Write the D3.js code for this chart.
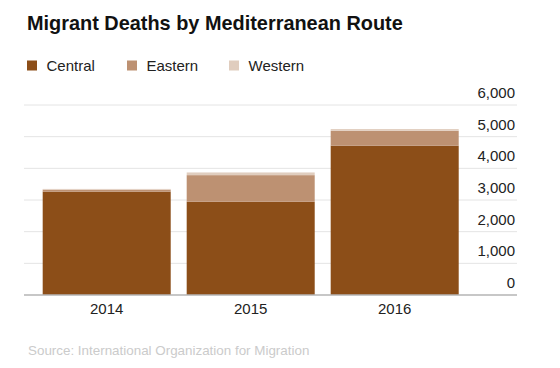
<!DOCTYPE html>
<html><head><meta charset="utf-8">
<script src="https://cdn.jsdelivr.net/npm/d3@7"></script>
<style>
html,body{margin:0;padding:0;background:#fff;}
text{font-family:"Liberation Sans",Arial,Helvetica,sans-serif;}
</style></head>
<body>
<script>
const years = ["2014","2015","2016"];
const central = [3265, 2945, 4715];
const eastern = [60, 840, 470];
const western = [25, 85, 55];
const seriesNames = ["Central","Eastern","Western"];
const colors = ["#8C4E18","#BD9172","#E0CDBE"];
const yTicks = [0,1000,2000,3000,4000,5000,6000];

const W=560,H=368;
const svg=d3.select("body").append("svg").attr("width",W).attr("height",H);

svg.append("text").attr("x",27).attr("y",30).attr("font-size",19.9).attr("font-weight","bold")
  .attr("fill","#111").text("Migrant Deaths by Mediterranean Route");

// legend
const legX=[27,127,229];
seriesNames.forEach((s,i)=>{
  svg.append("rect").attr("x",legX[i]).attr("y",60.5).attr("width",10).attr("height",10).attr("fill",colors[i]);
  svg.append("text").attr("x",legX[i]+19.5).attr("y",71).attr("font-size",15).attr("fill","#222").text(s);
});

const x=d3.scaleBand().domain(years).range([34.7,466.7]).paddingInner(0.111).paddingOuter(0.0555);
const y=d3.scaleLinear().domain([0,6000]).range([295,105]);

// grid
const gx0=24,gx1=517;
svg.append("g").selectAll("line").data(yTicks.filter(d=>d>0)).join("line")
  .attr("x1",gx0).attr("x2",gx1).attr("y1",d=>y(d)).attr("y2",d=>y(d))
  .attr("stroke","#e4e4e4").attr("stroke-width",1);

// stacked bars
const table=years.map((yr,i)=>({year:yr,Central:central[i],Eastern:eastern[i],Western:western[i]}));
const stack=d3.stack().keys(seriesNames)(table);
svg.append("g").selectAll("g").data(stack).join("g").attr("fill",(d,i)=>colors[i])
  .selectAll("rect").data(d=>d).join("rect")
  .attr("x",d=>x(d.data.year)).attr("width",x.bandwidth())
  .attr("y",d=>y(d[1])).attr("height",d=>y(d[0])-y(d[1]));

// axis line
svg.append("line").attr("x1",gx0).attr("x2",gx1).attr("y1",y(0)).attr("y2",y(0))
  .attr("stroke","#b5b5b5").attr("stroke-width",1.5);

// y labels
svg.append("g").selectAll("text").data(yTicks).join("text")
  .attr("x",515).attr("y",d=>y(d)-7).attr("text-anchor","end").attr("font-size",15).attr("fill","#222")
  .text(d=>d3.format(",")(d));

// x labels
svg.append("g").selectAll("text").data(years).join("text")
  .attr("x",d=>x(d)+x.bandwidth()/2).attr("y",314).attr("text-anchor","middle").attr("font-size",15).attr("fill","#222")
  .text(d=>d);

svg.append("text").attr("x",28).attr("y",355).attr("font-size",13.4).attr("fill","#cbcbcb")
  .text("Source: International Organization for Migration");
</script>
</body></html>
